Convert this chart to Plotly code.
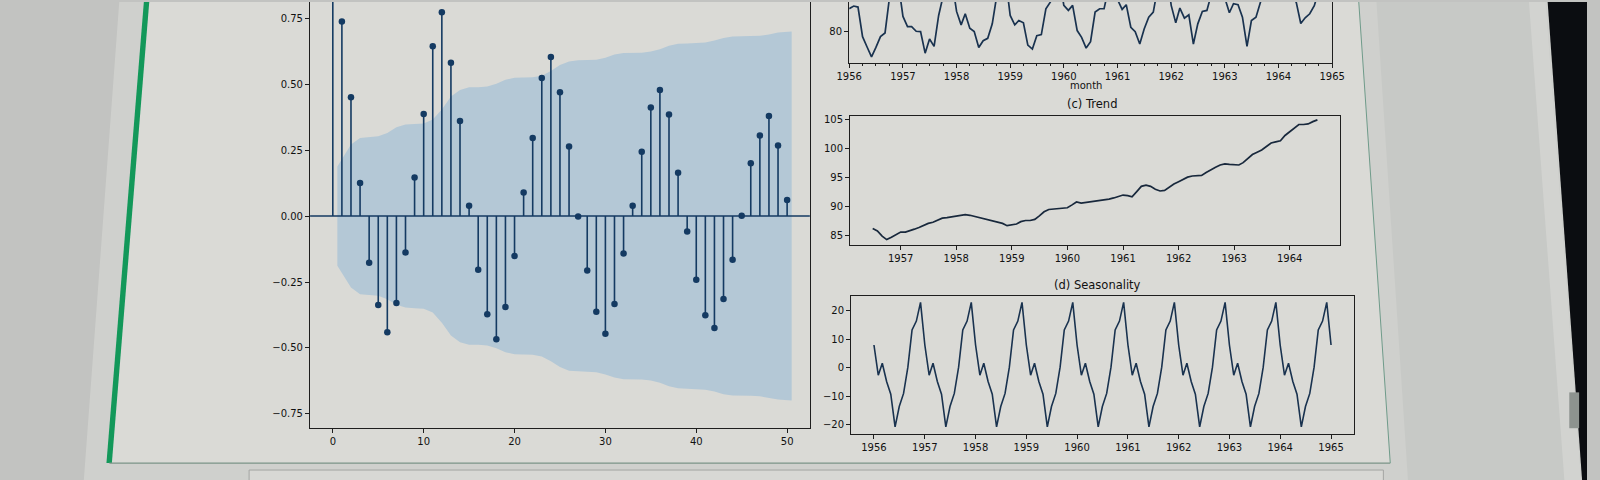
import pandas as pd
import plotly.graph_objects as go

W, H = 1600, 480

# ---------------- data ----------------
lags = list(range(51))
acf_values = [1.0, 0.737, 0.45, 0.125, -0.177, -0.337, -0.44, -0.33, -0.138, 0.146,
              0.387, 0.643, 0.772, 0.581, 0.36, 0.039, -0.204, -0.372, -0.467, -0.345,
              -0.151, 0.089, 0.296, 0.523, 0.603, 0.469, 0.263, -0.002, -0.206, -0.363,
              -0.446, -0.333, -0.142, 0.039, 0.244, 0.411, 0.478, 0.385, 0.164, -0.059,
              -0.241, -0.376, -0.424, -0.314, -0.166, 0.001, 0.2, 0.305, 0.379, 0.267, 0.061]
# half-width of the confidence band for lags 1..50
conf_half = [0.188, 0.271, 0.296, 0.298, 0.302, 0.315, 0.336, 0.347, 0.349, 0.351,
             0.366, 0.404, 0.453, 0.478, 0.488, 0.488, 0.491, 0.501, 0.516, 0.524,
             0.525, 0.526, 0.532, 0.550, 0.572, 0.586, 0.590, 0.590, 0.592, 0.600,
             0.612, 0.618, 0.619, 0.619, 0.623, 0.632, 0.645, 0.653, 0.654, 0.655,
             0.658, 0.665, 0.675, 0.680, 0.681, 0.681, 0.683, 0.688, 0.695, 0.699]

months = pd.date_range("1956-01-01", periods=109, freq="MS")
sales = [93.6, 95.2, 94.6, 77.0, 71.0, 65.0, 70.6, 77.0, 79.2, 100.0, 101.5, 108.5,
         89.0, 83.0, 83.0, 80.2, 80.0, 67.2, 75.6, 71.2, 89.6, 101.0, 103.5, 110.0,
         92.0, 84.0, 90.6, 82.0, 80.0, 70.6, 74.6, 76.0, 84.6, 101.0, 104.0, 111.5,
         89.6, 84.0, 86.6, 85.2, 72.0, 69.6, 77.6, 78.2, 93.5, 97.5, 105.0, 112.5,
         95.6, 92.6, 95.6, 80.6, 76.6, 70.2, 74.0, 91.6, 93.6, 93.6, 106.0, 114.0,
         99.0, 93.2, 96.0, 82.6, 80.0, 72.6, 81.6, 88.6, 91.6, 106.0, 109.0, 116.0,
         95.6, 85.2, 94.0, 88.0, 90.0, 72.6, 84.6, 92.0, 92.6, 108.0, 112.0, 119.0,
         100.0, 91.2, 96.6, 96.0, 88.6, 71.2, 86.6, 88.6, 101.0, 111.0, 115.0, 124.0,
         111.0, 102.0, 106.0, 100.0, 97.5, 84.8, 88.2, 90.6, 95.4, 106.0, 110.0, 122.0,
         107.0]

trend_months = pd.date_range("1956-07-01", periods=97, freq="MS")
trend = [86.2, 85.8, 84.9, 84.3, 84.7, 85.1,
         85.6, 85.6, 85.8, 86.1, 86.4, 86.8, 87.1, 87.3, 87.6, 88.0, 88.1, 88.2,
         88.3, 88.5, 88.6, 88.5, 88.3, 88.1, 87.9, 87.6, 87.4, 87.3, 87.1, 86.7,
         86.8, 87.0, 87.4, 87.6, 87.6, 87.8, 88.4, 89.1, 89.5, 89.6, 89.6, 89.8,
         89.8, 90.3, 90.8, 90.6, 90.7, 90.8, 90.9, 91.0, 91.1, 91.3, 91.5, 91.8,
         92.0, 91.9, 91.7, 92.6, 93.5, 93.7, 93.5, 93.0, 92.7, 92.8, 93.4, 93.9,
         94.3, 94.7, 95.1, 95.3, 95.3, 95.4, 95.9, 96.4, 96.8, 97.2, 97.4, 97.3,
         97.3, 97.2, 97.6, 98.4, 99.0, 99.4, 99.8, 100.4, 101.0, 101.2, 101.4, 102.3,
         103.0, 103.6, 104.2, 104.2, 104.3, 104.7, 105.0]

seasonal = [8.0, -2.6, 1.6, -4.8, -9.3, -20.8, -13.6, -9.0, 0.2, 13.3, 16.4, 23.0,
            8.0, -2.6, 1.6, -4.8, -9.3, -20.8, -13.6, -9.0, 0.2, 13.3, 16.4, 23.0,
            8.0, -2.6, 1.6, -4.8, -9.3, -20.8, -13.6, -9.0, 0.2, 13.3, 16.4, 23.0,
            8.0, -2.6, 1.6, -4.8, -9.3, -20.8, -13.6, -9.0, 0.2, 13.3, 16.4, 23.0,
            8.0, -2.6, 1.6, -4.8, -9.3, -20.8, -13.6, -9.0, 0.2, 13.3, 16.4, 23.0,
            8.0, -2.6, 1.6, -4.8, -9.3, -20.8, -13.6, -9.0, 0.2, 13.3, 16.4, 23.0,
            8.0, -2.6, 1.6, -4.8, -9.3, -20.8, -13.6, -9.0, 0.2, 13.3, 16.4, 23.0,
            8.0, -2.6, 1.6, -4.8, -9.3, -20.8, -13.6, -9.0, 0.2, 13.3, 16.4, 23.0,
            8.0, -2.6, 1.6, -4.8, -9.3, -20.8, -13.6, -9.0, 0.2, 13.3, 16.4, 23.0,
            8.0]

acf_xticks = [0, 10, 20, 30, 40, 50]
acf_yticks = [-0.75, -0.5, -0.25, 0.0, 0.25, 0.5, 0.75]
sales_yticks = [80]
trend_yticks = [85, 90, 95, 100, 105]
seasonal_yticks = [-20, -10, 0, 10, 20]

# ---------------- style ----------------
NAVY = "#143a62"
LINE = "#19324f"
BAND = "#b4c8d6"
CARD = "#dadad6"
TXT = "#111111"
FONT = "DejaVu Sans"
TICK_SIZE = 10


def fx(px):
    return px / W


def fy(py):
    return 1 - py / H


def poly(pts, color, line=None, lw=0):
    path = "M " + " L ".join(f"{fx(x):.5f},{fy(y):.5f}" for x, y in pts) + " Z"
    return dict(type="path", path=path, xref="paper", yref="paper", fillcolor=color,
                line=dict(color=line or color, width=lw), layer="below")


def seg(p0, p1, color, w):
    return dict(type="line", xref="paper", yref="paper", x0=fx(p0[0]), y0=fy(p0[1]),
                x1=fx(p1[0]), y1=fy(p1[1]), line=dict(color=color, width=w), layer="below")


fig = go.Figure()

# ---- ACF panel ----
band_x = [float(l) for l in lags[1:]]
band_x[0] -= 0.5
band_x[-1] += 0.5
upper = conf_half
lower = [-c for c in conf_half]
fig.add_trace(go.Scatter(x=band_x + band_x[::-1], y=upper + lower[::-1], fill="toself",
                         fillcolor=BAND, line=dict(width=0), mode="lines",
                         hoverinfo="skip", xaxis="x", yaxis="y"))
sx, sy = [], []
for k, v in zip(lags, acf_values):
    sx += [k, k, None]
    sy += [0, v, None]
fig.add_trace(go.Scatter(x=sx, y=sy, mode="lines", line=dict(color=NAVY, width=1.6),
                         xaxis="x", yaxis="y"))
fig.add_trace(go.Scatter(x=lags, y=acf_values, mode="markers",
                         marker=dict(color=NAVY, size=6.5), xaxis="x", yaxis="y"))

# ---- original series ----
fig.add_trace(go.Scatter(x=months, y=sales, mode="lines", line=dict(color=LINE, width=1.7),
                         xaxis="x2", yaxis="y2"))
# ---- trend ----
fig.add_trace(go.Scatter(x=trend_months, y=trend, mode="lines",
                         line=dict(color="#18283c", width=1.7), xaxis="x3", yaxis="y3"))
# ---- seasonality ----
fig.add_trace(go.Scatter(x=months, y=seasonal, mode="lines",
                         line=dict(color=LINE, width=1.6), xaxis="x4", yaxis="y4"))

axis_common = dict(showline=True, linecolor="#1e1e1e", linewidth=1.1, ticks="outside",
                   ticklen=4, tickwidth=1, tickcolor="#1e1e1e", showgrid=False,
                   zeroline=False, tickfont=dict(family=FONT, size=TICK_SIZE, color=TXT))

fig.update_layout(
    width=W, height=H, margin=dict(l=0, r=0, t=0, b=0),
    paper_bgcolor="#c2c3c1", plot_bgcolor="rgba(0,0,0,0)", showlegend=False,
    font=dict(family=FONT, size=TICK_SIZE, color=TXT),
    xaxis=dict(domain=[fx(302), fx(810)], range=[-2.5, 52.5], tickvals=acf_xticks,
               anchor="y", mirror=False, **axis_common),
    yaxis=dict(domain=[fy(428), 1], range=[-0.804, 0.811], tickvals=acf_yticks,
               tickformat=".2f", anchor="x", mirror=True, **axis_common),
    xaxis2=dict(domain=[fx(850), fx(1341)], type="date",
                range=["1956-01-01", "1965-01-01"], dtick="M12", tick0="1956-01-01",
                tickformat="%Y", anchor="y2", mirror=False,
                minor=dict(ticks="outside", ticklen=2, tickcolor="#1e1e1e",
                           dtick="M3", tick0="1956-01-01", showgrid=False),
                **axis_common),
    yaxis2=dict(domain=[fy(60.8), 1], range=[61.6, 97.6], tickvals=sales_yticks,
                anchor="x2", mirror=True, **axis_common),
    xaxis3=dict(domain=[fx(851), fx(1349)], type="date",
                range=["1956-02-04", "1964-11-27"], dtick="M12", tick0="1957-01-01",
                tickformat="%Y", anchor="y3", mirror=True, **axis_common),
    yaxis3=dict(domain=[fy(243.8), fy(114.6)], range=[83.4, 105.65], tickvals=trend_yticks,
                anchor="x3", mirror=True, **axis_common),
    xaxis4=dict(domain=[fx(852), fx(1363)], type="date",
                range=["1955-07-21", "1965-06-14"], dtick="M12", tick0="1956-01-01",
                tickformat="%Y", anchor="y4", mirror=True, **axis_common),
    yaxis4=dict(domain=[fy(433.6), fy(295)], range=[-23.2, 25.3], tickvals=seasonal_yticks,
                anchor="x4", mirror=True, **axis_common),
)

shapes = [
    # light surround and card
    poly([(108, 0), (1600, 0), (1600, 480), (72, 480)], "#cfd0cd"),
    poly([(136, 0), (1368, 0), (1400, 463), (98, 463)], CARD),
    # right side panel
    poly([(1386, 0), (1558, 0), (1594, 480), (1418, 480)], "#c7c9c6"),
    poly([(1541, 0), (1558, 0), (1594, 480), (1577, 480)], "#d2d3d0"),
    # bezel
    poly([(1560, 0), (1600, 0), (1600, 480), (1595, 480)], "#0b0d11"),
    # card borders
    poly([(133, 0), (138.5, 0), (100.5, 463), (95, 463)], "#13985a"),
    seg((98, 463), (1400, 463), "#7b9487", 1.3),
    seg((1368, 0), (1400, 463), "#6f9b8a", 1),
    # box below the card
    dict(type="rect", xref="paper", yref="paper", x0=fx(240), x1=fx(1393), y0=fy(482),
         y1=fy(470), fillcolor="#d8d8d5", line=dict(color="#a4a5a3", width=1), layer="below"),
    # scrollbar thumb
    dict(type="rect", xref="paper", yref="paper", x0=fx(1582), x1=fx(1592), y0=fy(428),
         y1=fy(392), fillcolor="#8d938f", line=dict(color="#8d938f", width=0), layer="below"),
    # ACF zero line
    dict(type="line", xref="x domain", yref="y", x0=0, x1=1, y0=0, y1=0,
         line=dict(color=NAVY, width=1.4)),
]
fig.update_layout(shapes=shapes)


def label(text, x_px, y_px, size):
    return dict(text=text, xref="paper", yref="paper", x=fx(x_px), y=fy(y_px),
                xanchor="center", yanchor="middle", showarrow=False,
                font=dict(family=FONT, size=size, color=TXT))


fig.update_layout(annotations=[
    label("(c) Trend", 1097, 102.6, 11.5),
    label("(d) Seasonality", 1102, 284.6, 11.5),
    label("month", 1091, 83.8, TICK_SIZE),
    dict(text="100", xref="paper", yref="y2", x=fx(845), y=100, xanchor="right",
         yanchor="middle", showarrow=False,
         font=dict(family=FONT, size=TICK_SIZE, color=TXT)),
])

fig.write_html("out.html", config={"displayModeBar": False, "staticPlot": True},
               post_script=(
                   "document.body.style.margin='0';document.body.style.padding='0';"
                   "document.body.style.overflow='hidden';"
                   "document.documentElement.style.overflow='hidden';"))
